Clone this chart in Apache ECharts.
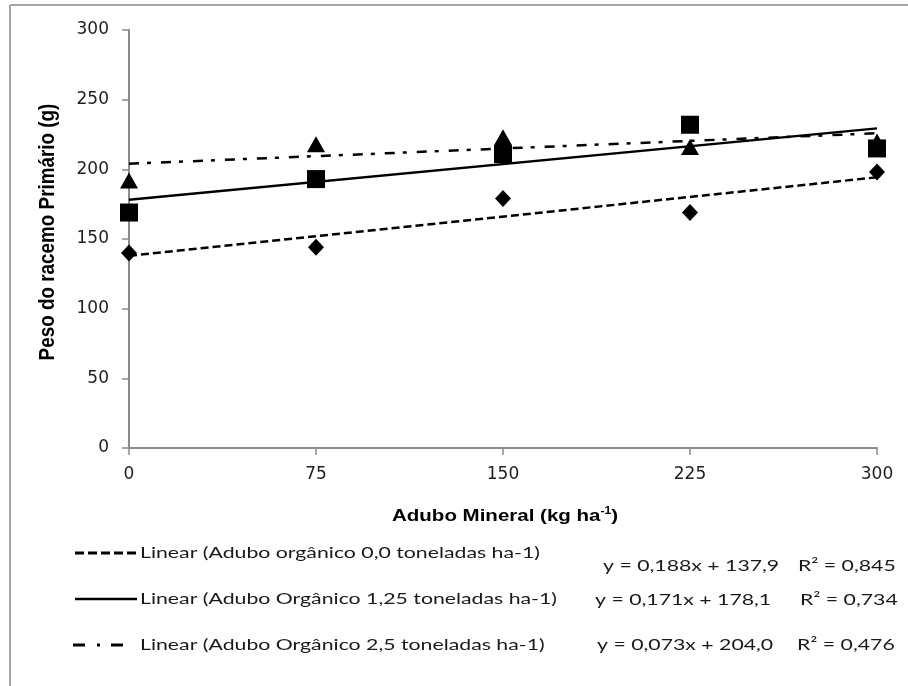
<!DOCTYPE html>
<html>
<head>
<meta charset="utf-8">
<script src="https://cdn.jsdelivr.net/npm/echarts@6/dist/echarts.min.js"></script>
<style>
html,body{margin:0;padding:0;background:#fff;}
#chart{width:908px;height:686px;}
</style>
</head>
<body>
<div id="chart"></div>
<script>
var xValues = [0, 75, 150, 225, 300];
var organico0 = [140, 144, 179, 169, 198];
var organico125 = [169, 193, 211, 232, 215];
var organico25 = [192, 218, 223, 216, 220];
var slopes = [0.188, 0.171, 0.073];
var intercepts = [137.9, 178.1, 204.0];
var r2Values = ['0,845', '0,734', '0,476'];
var legendNames = [
  'Linear (Adubo orgânico 0,0 toneladas ha-1)',
  'Linear (Adubo Orgânico 1,25 toneladas ha-1)',
  'Linear (Adubo Orgânico 2,5 toneladas ha-1)'
];
var xTitle = ['Adubo Mineral (kg ha', '-1', ')'];
var yTitle = 'Peso do racemo Primário (g)';
var xTicks = [0, 75, 150, 225, 300];
var yTicks = [0, 50, 100, 150, 200, 250, 300];

var FONT = 'Lato, "Liberation Sans", sans-serif';
var BFONT = '"Liberation Sans", Arial, sans-serif';
var TICKFONT = '"DejaVu Sans", "Liberation Sans", sans-serif';
var TXT = '#1a1a1a';

var mctx = document.createElement('canvas').getContext('2d');
function textW(t, font) { mctx.font = font; return mctx.measureText(t).width; }

function pts(ys) { return xValues.map(function (x, i) { return [x, ys[i]]; }); }
function trend(k) {
  var x0 = xTicks[0], x1 = xTicks[xTicks.length - 1];
  return [[x0, intercepts[k] + slopes[k] * x0], [x1, intercepts[k] + slopes[k] * x1]];
}
function fmt(v, d) { return v.toFixed(d).replace('.', ','); }
function eqText(k) { return 'y = ' + fmt(slopes[k], 3) + 'x + ' + fmt(intercepts[k], 1); }

var dashTypes = [[8, 4], 'solid', [10, 8, 4, 10]];

var chart = echarts.init(document.getElementById('chart'), null, { renderer: 'canvas' });

var axisCommon = {
  axisLine: { show: true, lineStyle: { color: '#8c8c8c', width: 2 } },
  axisTick: { show: true, inside: false, length: 7, lineStyle: { color: '#8c8c8c', width: 1.5 } },
  splitLine: { show: false },
  axisLabel: { color: '#1e1e1e', fontFamily: TICKFONT, fontSize: 17 }
};

var series = [
  { type: 'scatter', data: pts(organico0), symbol: 'diamond', symbolSize: [16, 17], itemStyle: { color: '#000', opacity: 1 }, z: 5 },
  { type: 'scatter', data: pts(organico125), symbol: 'rect', symbolSize: 18, itemStyle: { color: '#000', opacity: 1 }, z: 5 },
  { type: 'scatter', data: pts(organico25), symbol: 'triangle', symbolSize: [18, 16], itemStyle: { color: '#000', opacity: 1 }, z: 5 }
];
for (var k = 0; k < 3; k++) {
  series.push({
    type: 'line', data: trend(k), showSymbol: false, symbol: 'none', silent: true,
    lineStyle: { color: '#000', width: 2.5, type: dashTypes[k] }, z: 4
  });
}

// horizontal stretch of the bottom texts (reference is a widened picture)
var LFONT = '16px ' + FONT;
var sx = 417 / textW(legendNames[1], LFONT);

var legendY = [553, 599, 645];
var eqX = [603, 595, 597];
var eqY = [566, 600, 645];
var r2X = [798, 800, 797];

var graphics = [
  { type: 'line', shape: { x1: 10, y1: 5, x2: 908, y2: 5 }, style: { stroke: '#a6a6a6', lineWidth: 2 } },
  { type: 'line', shape: { x1: 10, y1: 5, x2: 10, y2: 686 }, style: { stroke: '#a6a6a6', lineWidth: 2 } },
  { type: 'line', shape: { x1: 75, y1: legendY[0], x2: 137, y2: legendY[0] }, style: { stroke: '#000', lineWidth: 3, lineDash: [9, 4] } },
  { type: 'line', shape: { x1: 75, y1: legendY[1], x2: 137, y2: legendY[1] }, style: { stroke: '#000', lineWidth: 2.5 } },
  { type: 'line', shape: { x1: 73, y1: legendY[2], x2: 123, y2: legendY[2] }, style: { stroke: '#000', lineWidth: 3, lineDash: [12, 12, 3, 11] } }
];
function addText(str, x, y, font, align) {
  graphics.push({
    type: 'text', x: x, y: y, scaleX: sx, scaleY: 1,
    style: { text: str, x: 0, y: 0, fill: TXT, font: font, textAlign: align || 'left', textVerticalAlign: 'middle' }
  });
}
for (var j = 0; j < 3; j++) {
  addText(legendNames[j], 140, legendY[j], LFONT);
  addText(eqText(j), eqX[j], eqY[j], LFONT);
  addText('R² = ' + r2Values[j], r2X[j], eqY[j], LFONT);
}

// x axis title with superscript
var TFONT = 'bold 17px ' + BFONT;
var SFONT = 'bold 10px ' + BFONT;
var xtW = textW(xTitle[0], TFONT) + textW(xTitle[1], SFONT) + textW(xTitle[2], TFONT);
var xsx = 226 / xtW;
graphics.push({
  type: 'text', x: 505, y: 516, scaleX: xsx, scaleY: 1,
  style: {
    text: '{a|' + xTitle[0] + '}{s|' + xTitle[1] + '}{a|' + xTitle[2] + '}',
    x: 0, y: 0, textAlign: 'center', textVerticalAlign: 'middle',
    rich: {
      a: { fontFamily: BFONT, fontSize: 17, fontWeight: 'bold', fill: '#000', color: '#000' },
      s: { fontFamily: BFONT, fontSize: 10, fontWeight: 'bold', fill: '#000', color: '#000', padding: [0, 0, 10, 0] }
    }
  }
});

// y axis title (rotated)
var yfs = 15 * 257 / textW(yTitle, 'bold 15px ' + BFONT);
graphics.push({
  type: 'text', x: 48, y: 232, rotation: Math.PI / 2, scaleX: 1, scaleY: 1.2,
  style: { text: yTitle, x: 0, y: 0, fill: '#000', font: 'bold ' + yfs.toFixed(2) + 'px ' + BFONT, textAlign: 'center', textVerticalAlign: 'middle' }
});

chart.setOption({
  animation: false,
  backgroundColor: '#fff',
  grid: { left: 129, right: 31, top: 30, bottom: 238, containLabel: false },
  xAxis: Object.assign({}, axisCommon, {
    type: 'value', min: xTicks[0], max: xTicks[xTicks.length - 1], interval: xTicks[1] - xTicks[0],
    axisLabel: Object.assign({}, axisCommon.axisLabel, { margin: 18 })
  }),
  yAxis: Object.assign({}, axisCommon, {
    type: 'value', min: yTicks[0], max: yTicks[yTicks.length - 1], interval: yTicks[1] - yTicks[0],
    axisLabel: Object.assign({}, axisCommon.axisLabel, { margin: 20 })
  }),
  series: series,
  graphic: graphics
});
</script>
</body>
</html>
